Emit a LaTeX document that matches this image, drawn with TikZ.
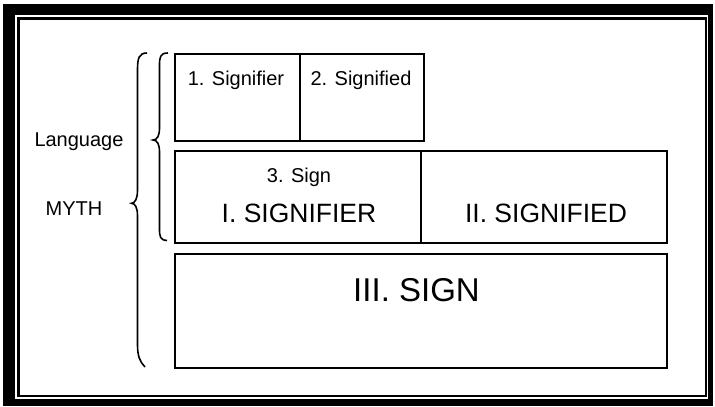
\documentclass[tikz,border=0pt]{standalone}
\usepackage{fontspec}
\setmainfont{Liberation Sans}
\begin{document}
\begin{tikzpicture}[x=1pt,y=-1pt,
  box/.style={draw=black,line width=2pt,rectangle,inner sep=0pt,anchor=north west},
  small/.style={font=\fontsize{20}{24}\selectfont,anchor=base,inner sep=0pt},
  big/.style={font=\fontsize{26.5}{30}\selectfont,anchor=base,inner sep=0pt},
  huge/.style={font=\fontsize{33}{38}\selectfont,anchor=base,inner sep=0pt},
  bracepath/.style={draw=black,line width=1.6pt}]
\useasboundingbox (0,0) rectangle (715,407);
\fill[white] (0,0) rectangle (715,407);
% frame
\fill[black] (3,3.5) rectangle (713,406);
\fill[white] (15,15) rectangle (708,399);
\draw[line width=2.8pt] (18.5,18.5) rectangle (706,396);
% boxes
\node[box,minimum width=125pt,minimum height=87.5pt] (b1) at (174,52.5) {};
\node[box,minimum width=124pt,minimum height=87.5pt] (b2) at (299,52.5) {};
\node[box,minimum width=246pt,minimum height=91.5pt] (b3) at (174,150) {};
\node[box,minimum width=246pt,minimum height=91.5pt] (b4) at (420,150) {};
\node[box,minimum width=492pt,minimum height=114pt] (b5) at (174,253) {};
% labels
\node[small] (t1) at (236,85) {1. Signifier};
\node[small] (t2) at (361,85) {2. Signified};
\node[small] (t3) at (299,182.7) {3. Sign};
\node[big] (t4) at (299,222.7) {I. SIGNIFIER};
\node[big] (t5) at (546,222.7) {II. SIGNIFIED};
\node[huge] (t6) at (416.5,301.7) {III. SIGN};
\node[small] (t7) at (79,146.7) {Language};
\node[small] (t8) at (74,215) {MYTH};
% small brace
\draw[bracepath] (168,53) .. controls (160,53) and (159.5,57) .. (159.5,66)
  -- (159.5,128) .. controls (159.5,136) and (157,140) .. (153,140)
  .. controls (157,140) and (159.5,144) .. (159.5,152)
  -- (159.5,228) .. controls (159.5,237) and (160,240) .. (167,240.5);
% large brace
\draw[bracepath] (147,53) .. controls (139,53) and (137.5,58) .. (137.5,70)
  -- (137.5,190) .. controls (137.5,199) and (135,203) .. (131.5,203.3)
  .. controls (135,203.5) and (137.5,207) .. (137.5,216)
  -- (137.5,345) .. controls (137.5,356) and (140,362) .. (145,367);
\end{tikzpicture}
\end{document}
